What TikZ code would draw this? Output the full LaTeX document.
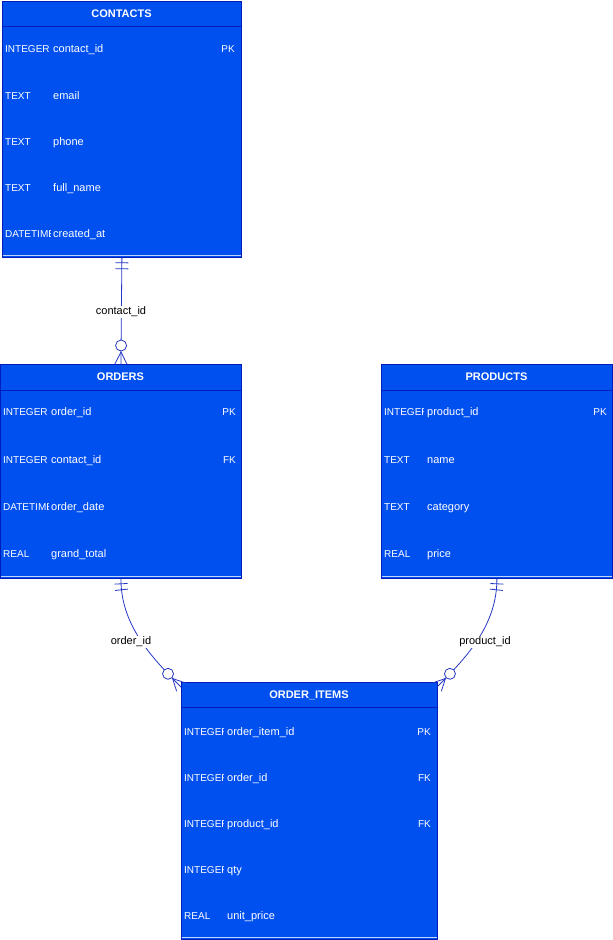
\documentclass[tikz,border=0pt]{standalone}
\usepackage{fontspec}
\setmainfont{Liberation Sans}
\usetikzlibrary{decorations.markings}
\definecolor{tblfill}{HTML}{0050EF}
\definecolor{tbldraw}{HTML}{001DBC}
\definecolor{edgecol}{HTML}{2336C4}
\tikzset{
  tbl/.style={draw=tbldraw, fill=tblfill, line width=0.8pt, inner sep=0pt, anchor=north west},
  title/.style={text=white, font=\fontsize{11}{13}\selectfont\bfseries, inner sep=0pt},
  cell/.style={text=white, font=\fontsize{11}{13}\selectfont, inner sep=0pt, anchor=base west},
  typecellst/.style={cell, font=\fontsize{10}{12}\selectfont},
  keycell/.style={cell, font=\fontsize{10}{12}\selectfont, anchor=base east},
  elabel/.style={fill=white, text=black, font=\fontsize{11}{13}\selectfont, inner sep=1pt, text height=8pt, text depth=2.5pt},
  conn/.style={draw=edgecol, line width=0.8pt},
  mandone/.style={postaction={decorate, decoration={markings,
    mark=at position 5pt with {\draw[edgecol, line width=0.8pt] (0,-6.5) -- (0,6.5);},
    mark=at position 11pt with {\draw[edgecol, line width=0.8pt] (0,-6.5) -- (0,6.5);}}}},
  zeromany/.style={postaction={decorate, decoration={markings,
    mark=at position -12pt with {\draw[edgecol, line width=0.8pt] (0,0) -- (12,-6) (0,0) -- (12,6);},
    mark=at position -18.5pt with {\draw[edgecol, line width=0.8pt, fill=white] (0,0) circle (5.5);}}}}
}
\newcommand{\typecell}[5]{\begin{scope}\clip (#2,#3-10) rectangle (#2+#4,#3+10);\node[typecellst] (#1) at (#2,#3+4) {#5};\end{scope}}
\newcommand{\bottomline}[3]{\draw[white!75!tblfill, line width=0.8pt] (#1+0.5,#3-1.6) -- (#2-0.5,#3-1.6);}
\begin{document}
\begin{tikzpicture}[x=1pt, y=-1pt]
\useasboundingbox (0,0) rectangle (613,940);

% CONTACTS
\node[tbl, minimum width=239pt, minimum height=256pt] (contacts) at (2,1) {};
\draw[tbldraw, line width=0.6pt] (2,26) -- (241,26);
\bottomline{2}{241}{257}
\node[title] (contactsT) at (121.5,13.5) {CONTACTS};
\typecell{c1t}{5}{48}{45}{INTEGER}
\node[cell] (c1n) at (53,52) {contact\_id};
\node[keycell] (c1k) at (235,52) {PK};
\typecell{c2t}{5}{95}{45}{TEXT}
\node[cell] (c2n) at (53,99) {email};
\typecell{c3t}{5}{141}{45}{TEXT}
\node[cell] (c3n) at (53,145) {phone};
\typecell{c4t}{5}{187}{45}{TEXT}
\node[cell] (c4n) at (53,191) {full\_name};
\typecell{c5t}{5}{233}{45}{DATETIME}
\node[cell] (c5n) at (53,237) {created\_at};

% ORDERS
\node[tbl, minimum width=241pt, minimum height=214pt] (orders) at (0,364) {};
\draw[tbldraw, line width=0.6pt] (0,390) -- (241,390);
\bottomline{0}{241}{578}
\node[title] (ordersT) at (120.5,377) {ORDERS};
\typecell{o1t}{3}{411}{45}{INTEGER}
\node[cell] (o1n) at (51,415) {order\_id};
\node[keycell] (o1k) at (236,415) {PK};
\typecell{o2t}{3}{459}{45}{INTEGER}
\node[cell] (o2n) at (51,463) {contact\_id};
\node[keycell] (o2k) at (236,463) {FK};
\typecell{o3t}{3}{506}{45}{DATETIME}
\node[cell] (o3n) at (51,510) {order\_date};
\typecell{o4t}{3}{553}{45}{REAL}
\node[cell] (o4n) at (51,557) {grand\_total};

% PRODUCTS
\node[tbl, minimum width=231pt, minimum height=214pt] (products) at (381,364) {};
\draw[tbldraw, line width=0.6pt] (381,390) -- (612,390);
\bottomline{381}{612}{578}
\node[title] (productsT) at (496.5,377) {PRODUCTS};
\typecell{p1t}{384}{411}{39}{INTEGER}
\node[cell] (p1n) at (427,415) {product\_id};
\node[keycell] (p1k) at (607,415) {PK};
\typecell{p2t}{384}{459}{39}{TEXT}
\node[cell] (p2n) at (427,463) {name};
\typecell{p3t}{384}{506}{39}{TEXT}
\node[cell] (p3n) at (427,510) {category};
\typecell{p4t}{384}{553}{39}{REAL}
\node[cell] (p4n) at (427,557) {price};

% ORDER_ITEMS
\node[tbl, minimum width=256pt, minimum height=257pt] (orderitems) at (181,682) {};
\draw[tbldraw, line width=0.6pt] (181,707) -- (437,707);
\bottomline{181}{437}{939}
\node[title] (orderitemsT) at (309,695) {ORDER\_ITEMS};
\typecell{i1t}{184}{731}{39}{INTEGER}
\node[cell] (i1n) at (227,735) {order\_item\_id};
\node[keycell] (i1k) at (431,735) {PK};
\typecell{i2t}{184}{777}{39}{INTEGER}
\node[cell] (i2n) at (227,781) {order\_id};
\node[keycell] (i2k) at (431,781) {FK};
\typecell{i3t}{184}{823}{39}{INTEGER}
\node[cell] (i3n) at (227,827) {product\_id};
\node[keycell] (i3k) at (431,827) {FK};
\typecell{i4t}{184}{869}{39}{INTEGER}
\node[cell] (i4n) at (227,873) {qty};
\typecell{i5t}{184}{915}{39}{REAL}
\node[cell] (i5n) at (227,919) {unit\_price};

% connector end points on ORDER_ITEMS
\coordinate (oiL) at (181,687);
\coordinate (oiR) at (437,687);

% Connectors
\draw[conn, mandone, zeromany] (contacts.south) -- (orders.north);
\node[elabel] (l1) at (121,312) {contact\_id};

\draw[conn, mandone, zeromany] (orders.south) .. controls (121,625) and (151,657) .. (oiL);
\node[elabel] (l2) at (131,642) {order\_id};

\draw[conn, mandone, zeromany] (products.south) .. controls (497,625) and (467,657) .. (oiR);
\node[elabel] (l3) at (485,642) {product\_id};
\end{tikzpicture}
\end{document}
